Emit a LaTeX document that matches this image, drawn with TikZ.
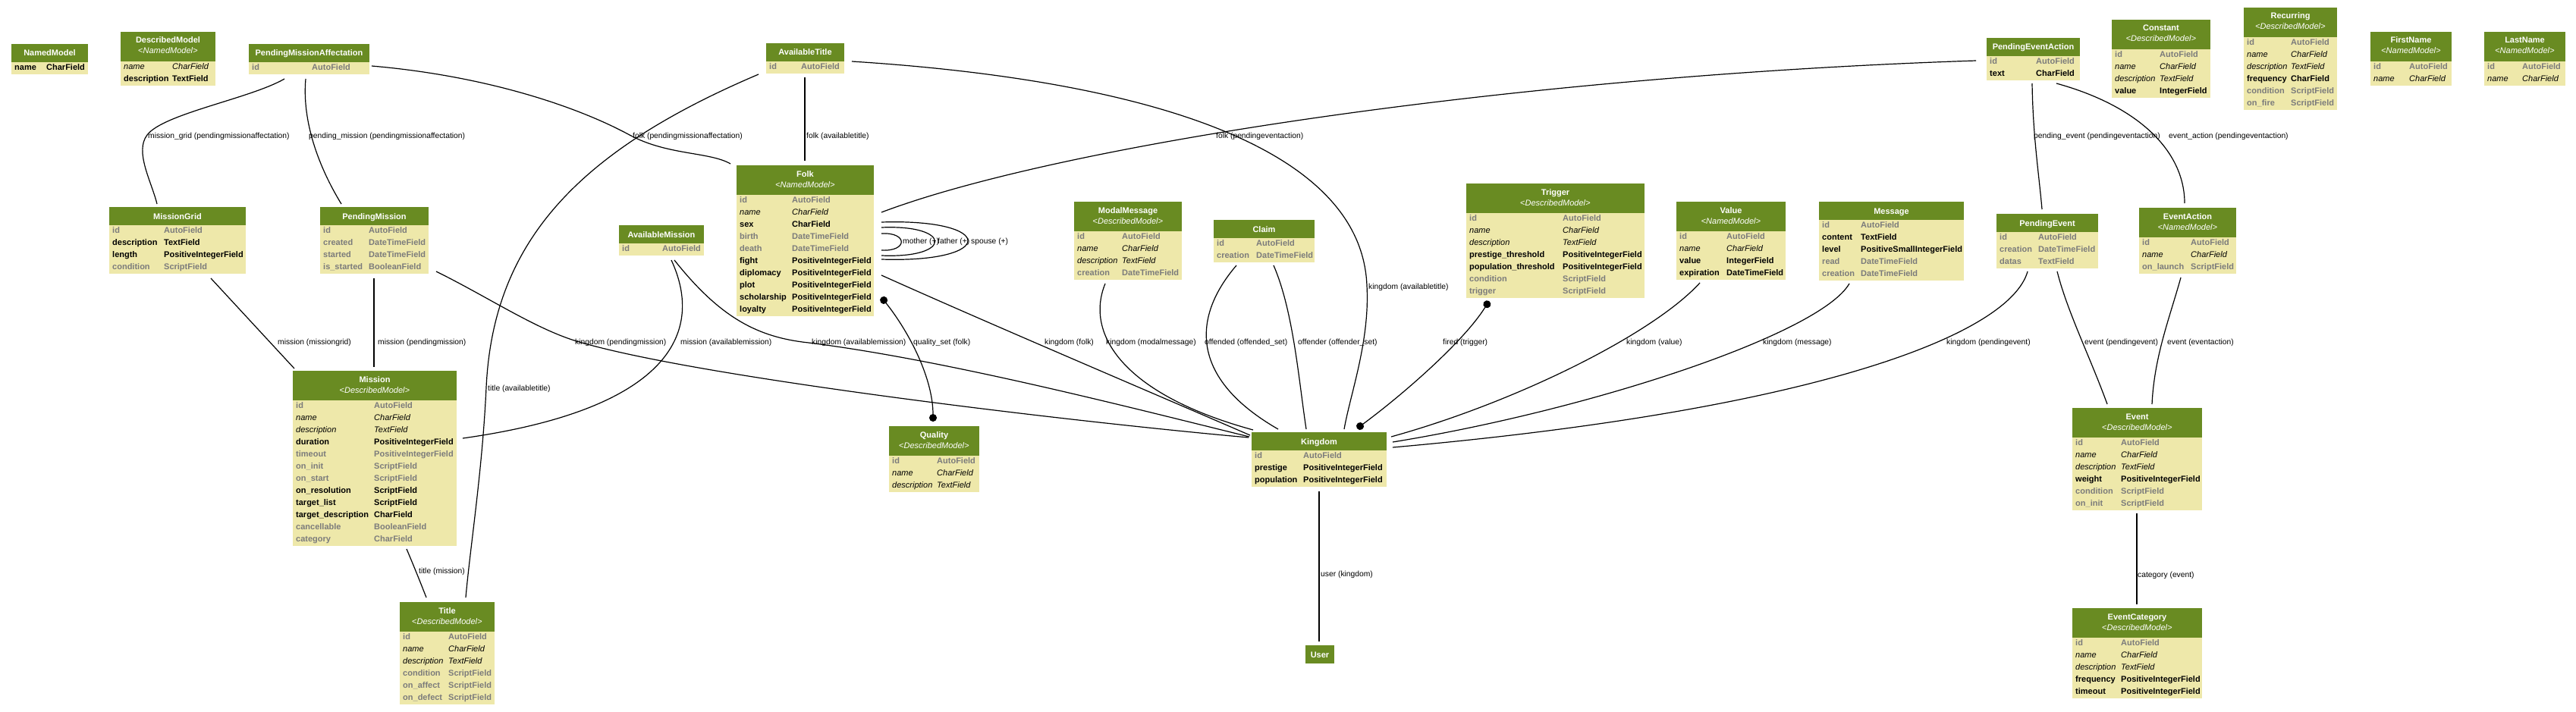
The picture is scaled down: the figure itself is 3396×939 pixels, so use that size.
\documentclass[tikz,border=0pt]{standalone}
\usepackage{fontspec}
\setmainfont{Liberation Sans}
\usetikzlibrary{arrows.meta}
\definecolor{hdr}{HTML}{698B22}
\definecolor{bdy}{HTML}{EEE8AA}
\definecolor{gry}{HTML}{7B7B7B}
\newcommand\fmtg{\color{gry}\bfseries}
\newcommand\fmtb{\bfseries}
\newcommand\fmti{\itshape}
\tikzset{
  tbl/.style={rectangle, inner sep=0pt, outer sep=0pt, fill=bdy, draw=none},
  ttl/.style={font=\fontsize{11}{13}\selectfont\bfseries, text=white, anchor=base, inner sep=0pt},
  ster/.style={font=\fontsize{11}{13}\selectfont, text=white, anchor=base, inner sep=0pt},
  fld/.style={font=\fontsize{11}{13}\selectfont, anchor=base west, inner sep=0pt},
  rel/.style={draw=black, line width=1.2pt},
  twodots/.style={{Circle[length=10pt]}-{Circle[length=10pt]}},
  lbl/.style={font=\fontsize{10.3}{12}\selectfont, anchor=base west, inner sep=0pt}
}
% #1 name, #2 x, #3 y, #4 width, #5 type column offset, #6 title, #7 stereotype, #8 rows, #9 list
\newcommand\umltable[9]{%
  \def\tmpster{#7}%
  \ifx\tmpster\empty\def\hh{24}\else\def\hh{39}\fi
  \pgfmathsetmacro\th{\hh+16*#8}%
  \node[tbl, minimum width=#4pt, minimum height=\th pt, anchor=north west] (#1) at (#2,#3) {};
  \fill[hdr] (#2,#3) rectangle ++(#4,\hh);
  \ifx\tmpster\empty
    \node[ttl] (#1-t) at (#2+#4/2,#3+16) {#6};
  \else
    \node[ttl] (#1-t) at (#2+#4/2,#3+15) {#6};
    \node[ster] (#1-s) at (#2+#4/2,#3+29) {<\textit{#7}>};
  \fi
  \ifnum#8>0
  \foreach \st/\fn/\ft [count=\k from 0] in {#9} {
    \node[fld] (#1-n\k) at (#2+4,#3+\hh+16*\k+10.5) {\csname fmt\st\endcsname \fn};
    \node[fld] (#1-y\k) at (#2+#5,#3+\hh+16*\k+10.5) {\csname fmt\st\endcsname \ft};
  }
  \fi
}
\begin{document}
\begin{tikzpicture}[x=1pt,y=-1pt]
\fill[white] (0,0) rectangle (3396,939);
\useasboundingbox (0,0) rectangle (3396,939);

\umltable{nm}{15}{58}{101}{46}{NamedModel}{}{1}{b/name/CharField}
\umltable{dm}{159}{42}{125}{68}{DescribedModel}{NamedModel}{2}{i/name/CharField, b/description/TextField}
\umltable{pma}{328}{58}{159}{83}{PendingMissionAffectation}{}{1}{g/id/AutoField}
\umltable{avt}{1010}{57}{103}{46}{AvailableTitle}{}{1}{g/id/AutoField}
\umltable{folk}{971}{218}{181}{73}{Folk}{NamedModel}{10}{g/id/AutoField, i/name/CharField, b/sex/CharField, g/birth/DateTimeField, g/death/DateTimeField, b/fight/PositiveIntegerField, b/diplomacy/PositiveIntegerField, b/plot/PositiveIntegerField, b/scholarship/PositiveIntegerField, b/loyalty/PositiveIntegerField}
\umltable{mg}{144}{273}{180}{72}{MissionGrid}{}{4}{g/id/AutoField, b/description/TextField, b/length/PositiveIntegerField, g/condition/ScriptField}
\umltable{pm}{422}{273}{143}{64}{PendingMission}{}{4}{g/id/AutoField, g/created/DateTimeField, g/started/DateTimeField, g/is\_started/BooleanField}
\umltable{am}{816}{297}{112}{57}{AvailableMission}{}{1}{g/id/AutoField}
\umltable{mis}{386}{489}{216}{107}{Mission}{DescribedModel}{12}{g/id/AutoField, i/name/CharField, i/description/TextField, b/duration/PositiveIntegerField, g/timeout/PositiveIntegerField, g/on\_init/ScriptField, g/on\_start/ScriptField, b/on\_resolution/ScriptField, b/target\_list/ScriptField, b/target\_description/CharField, g/cancellable/BooleanField, g/category/CharField}
\umltable{tit}{527}{794}{125}{64}{Title}{DescribedModel}{6}{g/id/AutoField, i/name/CharField, i/description/TextField, g/condition/ScriptField, g/on\_affect/ScriptField, g/on\_defect/ScriptField}
\umltable{mm}{1416}{266}{142}{63}{ModalMessage}{DescribedModel}{4}{g/id/AutoField, i/name/CharField, i/description/TextField, g/creation/DateTimeField}
\umltable{cl}{1600}{290}{133}{56}{Claim}{}{2}{g/id/AutoField, g/creation/DateTimeField}
\umltable{qu}{1172}{562}{119}{63}{Quality}{DescribedModel}{3}{g/id/AutoField, i/name/CharField, i/description/TextField}
\umltable{tr}{1933}{242}{235}{127}{Trigger}{DescribedModel}{7}{g/id/AutoField, i/name/CharField, i/description/TextField, b/prestige\_threshold/PositiveIntegerField, b/population\_threshold/PositiveIntegerField, g/condition/ScriptField, g/trigger/ScriptField}
\umltable{val}{2210}{266}{144}{66}{Value}{NamedModel}{4}{g/id/AutoField, i/name/CharField, b/value/IntegerField, b/expiration/DateTimeField}
\umltable{msg}{2398}{266}{191}{55}{Message}{}{5}{g/id/AutoField, b/content/TextField, b/level/PositiveSmallIntegerField, g/read/DateTimeField, g/creation/DateTimeField}
\umltable{pea}{2619}{50}{123}{65}{PendingEventAction}{}{2}{g/id/AutoField, b/text/CharField}
\umltable{con}{2784}{26}{130}{63}{Constant}{DescribedModel}{4}{g/id/AutoField, i/name/CharField, i/description/TextField, b/value/IntegerField}
\umltable{rec}{2958}{10}{123}{62}{Recurring}{DescribedModel}{6}{g/id/AutoField, i/name/CharField, i/description/TextField, b/frequency/CharField, g/condition/ScriptField, g/on\_fire/ScriptField}
\umltable{fn}{3125}{42}{107}{51}{FirstName}{NamedModel}{2}{g/id/AutoField, i/name/CharField}
\umltable{ln}{3275}{42}{107}{50}{LastName}{NamedModel}{2}{g/id/AutoField, i/name/CharField}
\umltable{pe}{2632}{282}{134}{55}{PendingEvent}{}{3}{g/id/AutoField, g/creation/DateTimeField, g/datas/TextField}
\umltable{ea}{2820}{274}{128}{68}{EventAction}{NamedModel}{3}{g/id/AutoField, i/name/CharField, g/on\_launch/ScriptField}
\umltable{ev}{2732}{538}{171}{64}{Event}{DescribedModel}{6}{g/id/AutoField, i/name/CharField, i/description/TextField, b/weight/PositiveIntegerField, g/condition/ScriptField, g/on\_init/ScriptField}
\umltable{ec}{2732}{802}{171}{64}{EventCategory}{DescribedModel}{5}{g/id/AutoField, i/name/CharField, i/description/TextField, b/frequency/PositiveIntegerField, b/timeout/PositiveIntegerField}
\umltable{kd}{1650}{570}{178}{68}{Kingdom}{}{3}{g/id/AutoField, b/prestige/PositiveIntegerField, b/population/PositiveIntegerField}
\umltable{us}{1721}{851}{38}{0}{User}{}{0}{}

% connectors
\draw[rel] ([shift={(47,46)}]pma.north west) .. controls (330,130) and (215,150) .. (194,178) .. controls (177,200) and (200,240) .. ([shift={(63,-4)}]mg.north west);
\draw[rel] ([shift={(75,46)}]pma.north west) .. controls (398,160) and (420,220) .. ([shift={(28,-4)}]pm.north west);
\draw[rel] ([shift={(162,29)}]pma.north west) .. controls (640,100) and (760,140) .. (830,178) .. controls (880,205) and (935,200) .. ([shift={(-8,-2)}]folk.north west);
\draw[rel] ([shift={(51,45)}]avt.north west) -- ([shift={(90,-6)}]folk.north west);
\draw[rel] ([shift={(113,24)}]avt.north west) .. controls (1500,105) and (1795,190) .. (1802,377) .. controls (1806,450) and (1780,520) .. ([shift={(122,-4)}]kd.north west);
\draw[rel] ([shift={(-10,41)}]avt.north west) .. controls (760,200) and (650,320) .. (641,511) .. controls (636,620) and (620,720) .. ([shift={(87,-6)}]tit.north west);
\draw[rel] ([shift={(191,90)}]folk.north west) .. controls (1197,306) and (1197,332) .. ([shift={(191,112)}]folk.north west);
\draw[rel] ([shift={(191,82)}]folk.north west) .. controls (1256,296) and (1256,341) .. ([shift={(191,119)}]folk.north west);
\draw[rel] ([shift={(191,75)}]folk.north west) .. controls (1314,288) and (1314,347) .. ([shift={(191,124)}]folk.north west);
\draw[rel] ([shift={(134,94)}]mg.north west) -- ([shift={(2,-3)}]mis.north west);
\draw[rel] ([shift={(71,94)}]pm.north west) -- ([shift={(107,-5)}]mis.north west);
\draw[rel] ([shift={(153,85)}]pm.north west) .. controls (640,390) and (700,430) .. (754,448) .. controls (900,495) and (1400,555) .. ([shift={(-4,7)}]kd.north west);
\draw[rel] ([shift={(69,46)}]am.north west) .. controls (930,440) and (880,540) .. ([shift={(224,89)}]mis.north west);
\draw[rel] ([shift={(73,46)}]am.north west) .. controls (950,420) and (1000,445) .. (1066,452) .. controls (1250,475) and (1500,540) .. ([shift={(-3,6)}]kd.north west);
\draw[rel] ([shift={(191,145)}]folk.north west) .. controls (1300,425) and (1500,510) .. ([shift={(-2,4)}]kd.north west);
\draw[rel, twodots] ([shift={(191,174)}]folk.north west) .. controls (1200,440) and (1230,500) .. ([shift={(58,-6)}]qu.north west);
\draw[rel] ([shift={(41,108)}]mm.north west) .. controls (1430,440) and (1480,520) .. ([shift={(2,-3)}]kd.north west);
\draw[rel] ([shift={(30,60)}]cl.north west) .. controls (1570,420) and (1570,500) .. ([shift={(35,-4)}]kd.north west);
\draw[rel] ([shift={(79,60)}]cl.north west) .. controls (1705,410) and (1712,500) .. ([shift={(72,-4)}]kd.north west);
\draw[rel, twodots] ([shift={(30,155)}]tr.north west) .. controls (1930,450) and (1850,520) .. ([shift={(139,-5)}]kd.north west);
\draw[rel] ([shift={(31,107)}]val.north west) .. controls (2180,440) and (2000,530) .. ([shift={(184,6)}]kd.north west);
\draw[rel] ([shift={(40,108)}]msg.north west) .. controls (2400,440) and (2100,540) .. ([shift={(186,13)}]kd.north west);
\draw[rel] ([shift={(41,76)}]pe.north west) .. controls (2650,440) and (2400,540) .. ([shift={(186,20)}]kd.north west);
\draw[rel] ([shift={(80,76)}]pe.north west) .. controls (2725,410) and (2755,470) .. ([shift={(46,-5)}]ev.north west);
\draw[rel] ([shift={(55,92)}]ea.north west) .. controls (2860,420) and (2840,470) .. ([shift={(105,-5)}]ev.north west);
\draw[rel] ([shift={(-14,30)}]pea.north west) .. controls (2000,100) and (1400,190) .. ([shift={(191,62)}]folk.north west);
\draw[rel] ([shift={(60,60)}]pea.north west) .. controls (2680,180) and (2688,230) .. ([shift={(60,-6)}]pe.north west);
\draw[rel] ([shift={(92,60)}]pea.north west) .. controls (2820,140) and (2880,200) .. ([shift={(60,-6)}]ea.north west);
\draw[rel] ([shift={(85,139)}]ev.north west) -- ([shift={(85,-5)}]ec.north west);
\draw[rel] ([shift={(89,78)}]kd.north west) -- ([shift={(18,-5)}]us.north west);
\draw[rel] ([shift={(150,235)}]mis.north west) .. controls (545,745) and (555,770) .. ([shift={(35,-6)}]tit.north west);

% labels
\node[lbl] (lb1) at (195,182) {mission\_grid (pendingmissionaffectation)};
\node[lbl] (lb2) at (407,182) {pending\_mission (pendingmissionaffectation)};
\node[lbl] (lb3) at (834,182) {folk (pendingmissionaffectation)};
\node[lbl] (lb4) at (1063,182) {folk (availabletitle)};
\node[lbl] (lb5) at (1804,381) {kingdom (availabletitle)};
\node[lbl] (lb6) at (643,515) {title (availabletitle)};
\node[lbl] (lb7a) at (1190,321) {mother (+)};
\node[lbl] (lb7b) at (1236,321) {father (+)};
\node[lbl] (lb7c) at (1280,321) {spouse (+)};
\node[lbl] (lb8) at (366,454) {mission (missiongrid)};
\node[lbl] (lb9) at (498,454) {mission (pendingmission)};
\node[lbl] (lb10) at (758,454) {kingdom (pendingmission)};
\node[lbl] (lb11) at (897,454) {mission (availablemission)};
\node[lbl] (lb12) at (1070,454) {kingdom (availablemission)};
\node[lbl] (lb14) at (1204,454) {quality\_set (folk)};
\node[lbl] (lb13) at (1377,454) {kingdom (folk)};
\node[lbl] (lb15) at (1458,454) {kingdom (modalmessage)};
\node[lbl] (lb16) at (1588,454) {offended (offended\_set)};
\node[lbl] (lb17) at (1711,454) {offender (offender\_set)};
\node[lbl] (lb18) at (1902,454) {fired (trigger)};
\node[lbl] (lb19) at (2144,454) {kingdom (value)};
\node[lbl] (lb20) at (2324,454) {kingdom (message)};
\node[lbl] (lb21) at (2566,454) {kingdom (pendingevent)};
\node[lbl] (lb22) at (2748,454) {event (pendingevent)};
\node[lbl] (lb23) at (2857,454) {event (eventaction)};
\node[lbl] (lb24) at (1603,182) {folk (pendingeventaction)};
\node[lbl] (lb25) at (2681,182) {pending\_event (pendingeventaction)};
\node[lbl] (lb26) at (2859,182) {event\_action (pendingeventaction)};
\node[lbl] (lb29) at (552,756) {title (mission)};
\node[lbl] (lb28) at (1741,760) {user (kingdom)};
\node[lbl] (lb27) at (2818,761) {category (event)};
\end{tikzpicture}
\end{document}
